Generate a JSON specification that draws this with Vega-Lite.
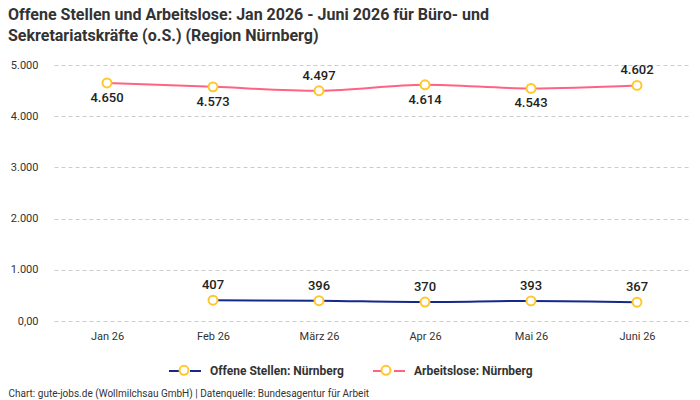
{
  "$schema": "https://vega.github.io/schema/vega-lite/v6.json",
  "width": 636,
  "height": 256,
  "autosize": {"type": "none"},
  "padding": {"left": 54, "top": 65, "right": 10, "bottom": 79},
  "background": "white",
  "title": {
    "text": ["Offene Stellen und Arbeitslose: Jan 2026 - Juni 2026 für Büro- und", "Sekretariatskräfte (o.S.) (Region Nürnberg)"],
    "anchor": "start",
    "frame": "group",
    "dx": -46,
    "dy": 16,
    "offset": 31,
    "font": "Roboto",
    "fontSize": 16,
    "fontWeight": "bold",
    "color": "#333333",
    "lineHeight": 21
  },
  "config": {
    "view": {"stroke": null},
    "font": "Roboto",
    "locale": {"number": {"decimal": ",", "thousands": ".", "grouping": [3], "currency": ["", " €"]}}
  },
  "data": {
    "values": [
      {"monat": "Jan 26", "serie": "Offene Stellen: Nürnberg", "wert": null},
      {"monat": "Feb 26", "serie": "Offene Stellen: Nürnberg", "wert": 407},
      {"monat": "März 26", "serie": "Offene Stellen: Nürnberg", "wert": 396},
      {"monat": "Apr 26", "serie": "Offene Stellen: Nürnberg", "wert": 370},
      {"monat": "Mai 26", "serie": "Offene Stellen: Nürnberg", "wert": 393},
      {"monat": "Juni 26", "serie": "Offene Stellen: Nürnberg", "wert": 367},
      {"monat": "Jan 26", "serie": "Arbeitslose: Nürnberg", "wert": 4650},
      {"monat": "Feb 26", "serie": "Arbeitslose: Nürnberg", "wert": 4573},
      {"monat": "März 26", "serie": "Arbeitslose: Nürnberg", "wert": 4497},
      {"monat": "Apr 26", "serie": "Arbeitslose: Nürnberg", "wert": 4614},
      {"monat": "Mai 26", "serie": "Arbeitslose: Nürnberg", "wert": 4543},
      {"monat": "Juni 26", "serie": "Arbeitslose: Nürnberg", "wert": 4602}
    ]
  },
  "encoding": {
    "x": {
      "field": "monat",
      "type": "ordinal",
      "sort": ["Jan 26", "Feb 26", "März 26", "Apr 26", "Mai 26", "Juni 26"],
      "scale": {"type": "point", "padding": 0.5},
      "axis": {
        "title": "Chart: gute-jobs.de (Wollmilchsau GmbH) | Datenquelle: Bundesagentur für Arbeit",
        "titleAnchor": "start",
        "titleAlign": "left",
        "titleBaseline": "middle",
        "titleX": -46,
        "titleY": 72,
        "titleFont": "Roboto",
        "titleFontSize": 10,
        "titleFontWeight": "normal",
        "titleColor": "#333333",
        "labelAngle": 0,
        "labelFontSize": 11,
        "labelColor": "#333333",
        "labelPadding": 9,
        "domain": false,
        "ticks": false,
        "grid": false
      }
    },
    "y": {
      "field": "wert",
      "type": "quantitative",
      "scale": {"domain": [0, 5000]},
      "axis": {
        "title": null,
        "values": [0, 1000, 2000, 3000, 4000, 5000],
        "labelExpr": "datum.value == 0 ? '0,00' : format(datum.value, ',')",
        "labelFontSize": 11,
        "labelColor": "#333333",
        "labelPadding": 16,
        "domain": false,
        "ticks": false,
        "gridDash": [4, 3],
        "gridColor": "#cccccc"
      }
    }
  },
  "layer": [
    {
      "mark": {"type": "line", "interpolate": "monotone", "strokeWidth": 2},
      "encoding": {
        "color": {
          "field": "serie",
          "type": "nominal",
          "sort": ["Offene Stellen: Nürnberg", "Arbeitslose: Nürnberg"],
          "scale": {"domain": ["Offene Stellen: Nürnberg", "Arbeitslose: Nürnberg"], "range": ["#15288c", "#ff6384"]},
          "legend": {
            "title": null,
            "orient": "none",
            "direction": "horizontal",
            "legendX": 114,
            "legendY": 289,
            "symbolType": "M-1,0L-0.31,0M0.31,0L1,0",
            "symbolSize": 1024,
            "symbolStrokeWidth": 2,
            "symbolFillColor": "white",
            "labelFontSize": 12,
            "labelFontWeight": "bold",
            "labelColor": "#333333",
            "labelOffset": 8,
            "columnPadding": 25
          }
        }
      }
    },
    {
      "mark": {"type": "point", "shape": "circle", "filled": false, "fill": "white", "strokeWidth": 2, "size": 80, "opacity": 1},
      "encoding": {
        "stroke": {
          "field": "serie",
          "type": "nominal",
          "scale": {"domain": ["Arbeitslose: Nürnberg", "Offene Stellen: Nürnberg"], "range": ["#ffc72c", "#ffc72c"]},
          "legend": {
            "title": null,
            "orient": "none",
            "direction": "horizontal",
            "values": ["Offene Stellen: Nürnberg", "Arbeitslose: Nürnberg"],
            "legendX": 124,
            "legendY": 299,
            "symbolType": "circle",
            "symbolSize": 80,
            "symbolStrokeWidth": 2,
            "symbolFillColor": "white",
            "symbolOpacity": 1,
            "labelFontSize": 12,
            "labelFontWeight": "bold",
            "labelOpacity": 0,
            "labelOffset": 28,
            "columnPadding": 25
          }
        }
      }
    },
    {
      "transform": [{"filter": "datum.serie == 'Offene Stellen: Nürnberg' || datum.monat == 'März 26' || datum.monat == 'Juni 26'"}],
      "mark": {"type": "text", "dy": -15, "fontSize": 13, "fontWeight": 500, "color": "#222222"},
      "encoding": {"text": {"field": "wert", "type": "quantitative", "format": ",d"}}
    },
    {
      "transform": [{"filter": "datum.serie == 'Arbeitslose: Nürnberg' && datum.monat != 'März 26' && datum.monat != 'Juni 26'"}],
      "mark": {"type": "text", "dy": 15, "fontSize": 13, "fontWeight": 500, "color": "#222222"},
      "encoding": {"text": {"field": "wert", "type": "quantitative", "format": ",d"}}
    }
  ]
}
